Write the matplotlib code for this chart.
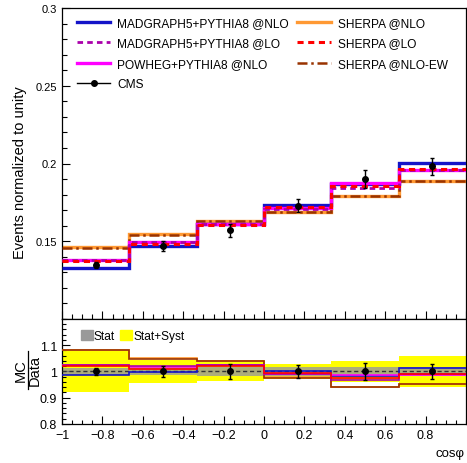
import matplotlib
matplotlib.use("Agg")
import matplotlib.pyplot as plt
import numpy as np
from matplotlib.lines import Line2D
from matplotlib.patches import Patch
from matplotlib.ticker import MultipleLocator, FixedLocator, FuncFormatter

plt.rcParams['font.family'] = ['Liberation Sans', 'DejaVu Sans']

# bin edges in cos(phi)
edges = np.linspace(-1, 1, 7)
centers = 0.5 * (edges[1:] + edges[:-1])

# CMS data
data = np.array([0.1348, 0.1470, 0.1571, 0.1729, 0.1902, 0.1981])
data_err = np.array([0.0020, 0.0030, 0.0043, 0.0042, 0.0058, 0.0053])

# predictions
mg5_nlo = np.array([0.1331, 0.1468, 0.1609, 0.1733, 0.1867, 0.2006])
mg5_lo = np.array([0.1380, 0.1498, 0.1610, 0.1710, 0.1844, 0.1960])
powheg = np.array([0.1382, 0.1493, 0.1609, 0.1712, 0.1875, 0.1955])
sherpa_nlo = np.array([0.1460, 0.1545, 0.1633, 0.1690, 0.1790, 0.1889])
sherpa_lo = np.array([0.1374, 0.1485, 0.1604, 0.1718, 0.1854, 0.1962])
sherpa_ew = np.array([0.1457, 0.1542, 0.1631, 0.1688, 0.1788, 0.1887])

# relative uncertainties for ratio bands
stat_rel = np.array([0.013, 0.015, 0.016, 0.016, 0.018, 0.018])
tot_rel = np.array([0.077, 0.045, 0.035, 0.027, 0.041, 0.059])

# (values, label, color, linestyle, top lw, ratio lw, zorder)
preds = [
    (sherpa_nlo, 'SHERPA @NLO', '#ff9933', '-', 2.4, 1.2, 2),
    (sherpa_ew, 'SHERPA @NLO-EW', '#993300', (0, (4, 1.5, 1, 1.5)), 1.8, 1.2, 3),
    (mg5_nlo, 'MADGRAPH5+PYTHIA8 @NLO', '#1414c8', '-', 2.4, 1.2, 4),
    (powheg, 'POWHEG+PYTHIA8 @NLO', '#ff00ff', '-', 2.4, 1.2, 5),
    (mg5_lo, 'MADGRAPH5+PYTHIA8 @LO', '#aa00aa', (0, (2, 1.5)), 2.0, 1.2, 6),
    (sherpa_lo, 'SHERPA @LO', '#ff0000', (0, (2, 1.5)), 2.2, 1.2, 7),
]

fig = plt.figure(figsize=(4.67, 4.64), dpi=100)
ax = fig.add_axes([62/467, 1-320/464, 404/467, 311/464])
rax = fig.add_axes([62/467, 1-425/464, 404/467, 105/464])

fmt = FuncFormatter(lambda v, p: ('%g' % v).replace('-', '\u2212'))

for vals, lab, col, ls, lw, rlw, z in preds:
    ax.stairs(vals, edges, baseline=None, color=col, ls=ls, lw=lw, zorder=z)
ax.errorbar(centers, data, yerr=data_err, fmt='o', color='black', ms=4,
            elinewidth=1, capsize=1.2, zorder=10)

ax.set_xlim(-1, 1)
ax.set_ylim(0.1, 0.3)
ax.yaxis.set_major_locator(FixedLocator([0.15, 0.2, 0.25, 0.3]))
ax.yaxis.set_minor_locator(MultipleLocator(0.01))
ax.yaxis.set_major_formatter(fmt)
ax.xaxis.set_major_locator(MultipleLocator(0.2))
ax.xaxis.set_minor_locator(MultipleLocator(0.05))
ax.tick_params(axis='x', labelbottom=False)
ax.tick_params(which='both', direction='in', top=False, right=False, labelsize=8)
ax.tick_params(which='major', length=6, width=0.8)
ax.tick_params(which='minor', length=3.5, width=0.8)

handles = [
    Line2D([], [], color='#1414c8', lw=2.4),
    Line2D([], [], color='#aa00aa', lw=2.0, ls=(0, (2, 1.5))),
    Line2D([], [], color='#ff00ff', lw=2.4),
    Line2D([], [], color='black', lw=1, marker='o', ms=4),
    Line2D([], [], color='#ff9933', lw=2.4),
    Line2D([], [], color='#ff0000', lw=2.2, ls=(0, (2, 1.5))),
    Line2D([], [], color='#993300', lw=1.8, ls=(0, (4, 1.5, 1, 1.5))),
]
labels = ['MADGRAPH5+PYTHIA8 @NLO', 'MADGRAPH5+PYTHIA8 @LO', 'POWHEG+PYTHIA8 @NLO', 'CMS',
          'SHERPA @NLO', 'SHERPA @LO', 'SHERPA @NLO-EW']
ax.legend(handles, labels, ncol=2, loc='upper left', bbox_to_anchor=(0.01, 1.005),
          frameon=False, fontsize=8.6, handlelength=2.8, handletextpad=0.6,
          columnspacing=0.7, labelspacing=0.7)

fig.text(20/467, 1-173/464, 'Events normalized to unity', rotation=90,
         ha='center', va='center', fontsize=10.5)

# ratio panel
rax.stairs(1 + tot_rel, edges, baseline=1 - tot_rel, fill=True, color='#ffff00', lw=0, zorder=1)
rax.stairs(1 + stat_rel, edges, baseline=1 - stat_rel, fill=True, color='#999999', alpha=0.8, lw=0, zorder=2)
rax.axhline(1, color='#333333', ls=(0, (3, 2)), lw=1, zorder=3)
for vals, lab, col, ls, lw, rlw, z in preds:
    rax.stairs(vals / data, edges, baseline=None, color=col, lw=rlw, zorder=z + 2)
rax.errorbar(centers, np.ones(6), yerr=data_err / data, fmt='o', color='black', ms=4,
             elinewidth=1, capsize=1.2, zorder=12)

rax.set_xlim(-1, 1)
rax.set_ylim(0.8, 1.2)
rax.yaxis.set_major_locator(FixedLocator([0.8, 0.9, 1.0, 1.1]))
rax.yaxis.set_minor_locator(MultipleLocator(0.02))
rax.xaxis.set_major_locator(FixedLocator([-1, -0.8, -0.6, -0.4, -0.2, 0, 0.2, 0.4, 0.6, 0.8]))
rax.xaxis.set_minor_locator(MultipleLocator(0.05))
rax.xaxis.set_major_formatter(fmt)
rax.yaxis.set_major_formatter(fmt)
rax.tick_params(which='both', direction='in', top=False, right=False, labelsize=9)
rax.tick_params(which='major', length=6, width=0.8)
rax.tick_params(which='minor', length=3, width=0.8)

rax.legend([Patch(color='#999999'), Patch(color='#ffff00')], ['Stat', 'Stat+Syst'],
           ncol=2, loc='upper left', bbox_to_anchor=(0.02, 1.0), frameon=False,
           fontsize=8.6, handlelength=1.0, handleheight=0.9, handletextpad=0.1,
           columnspacing=0.4)

# MC / Data fraction as y title of the ratio panel
fig.text(21/467, 1-371/464, 'MC', rotation=90, ha='center', va='center', fontsize=10.5)
fig.text(35/467, 1-371/464, 'Data', rotation=90, ha='center', va='center', fontsize=10.5)
fig.add_artist(Line2D([28/467, 28/467], [1-352/464, 1-390/464], color='black', lw=0.9,
                      transform=fig.transFigure))

fig.text(465/467, 1-457/464, 'cos\u03c6', ha='right', va='baseline', fontsize=9.5)

for a in (ax, rax):
    for s in a.spines.values():
        s.set_linewidth(0.9)

fig.savefig('out.png', dpi=100)
